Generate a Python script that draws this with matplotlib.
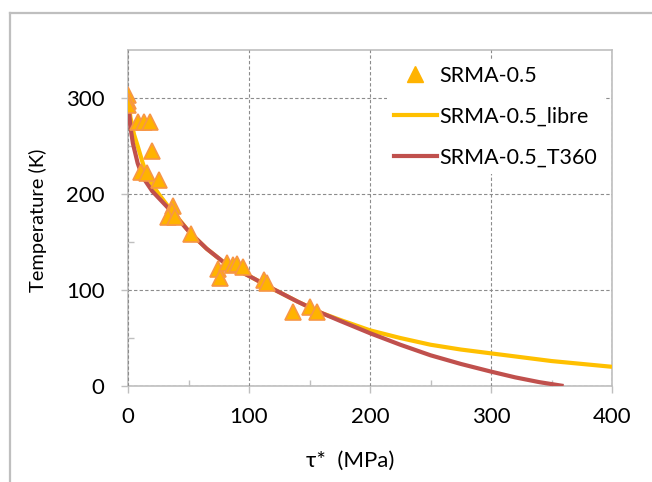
import matplotlib
matplotlib.use("Agg")
import matplotlib.pyplot as plt
from matplotlib.lines import Line2D

# measured points SRMA-0.5 (tau* in MPa, temperature in K)
tau_pts = [0, 0, 0, 8, 13, 18, 20, 11, 16, 26, 37, 36, 33, 39, 52,
           74, 76, 82, 87, 90, 95, 112, 115, 136, 150, 156]
temp_pts = [303, 297, 293, 275, 275, 275, 245, 223, 222, 215, 187, 182, 176, 176, 158,
            122, 112, 128, 126, 127, 124, 110, 107, 77, 82, 77]

# fit "libre"
tau_libre = [0, 2, 5, 8, 12, 15, 20, 26, 32, 40, 51, 65, 79, 90, 101, 120, 140, 160,
             175, 200, 225, 250, 275, 300, 325, 350, 375, 400]
temp_libre = [300, 280, 262, 250, 233, 222, 210, 199, 189, 177, 160, 143, 129, 121, 114,
              101, 88, 76, 69, 58, 50, 43, 38, 34, 30, 26, 23, 20]

# fit with tau0 = 360 MPa
tau_t360 = [0, 1, 2, 4, 8, 12, 20, 26, 32, 40, 51, 65, 79, 90, 101, 120, 140, 160,
            175, 200, 225, 250, 275, 300, 320, 340, 360]
temp_t360 = [300, 285, 270, 253, 232, 218, 203, 195, 187, 176, 160, 143, 129, 121, 114,
             101, 88, 76, 68, 55, 43, 32, 23, 15, 9, 4, 0]

labels = ["SRMA-0.5", "SRMA-0.5_libre", "SRMA-0.5_T360"]

plt.rcParams['font.family'] = ['Lato', 'DejaVu Sans']

W, H = 652, 482
fig = plt.figure(figsize=(W / 100, H / 100), dpi=100)
ax = fig.add_axes([128 / W, 96 / H, 484 / W, 336 / H])

grey = '#BFBFBF'

# lines first, markers on top
ax.plot(tau_libre, temp_libre, color='#FFC000', lw=3, solid_capstyle='butt', zorder=3)
ax.plot(tau_t360, temp_t360, color='#C0504D', lw=3, solid_capstyle='butt', zorder=3)
ax.plot(tau_pts, temp_pts, ls='none', marker='^', ms=11, mfc='#FFB300',
        mec='#F79646', mew=1.2, zorder=4)

ax.set_xlim(0, 400)
ax.set_ylim(0, 350)
ax.set_xticks([0, 100, 200, 300, 400])
ax.set_yticks([0, 100, 200, 300])
ax.set_xticks([50, 150, 250, 350], minor=True)
ax.set_yticks([50, 150, 250], minor=True)

ax.tick_params(which='major', direction='out', length=5, width=1, color=grey,
               labelsize=16, labelcolor='black')
ax.tick_params(axis='x', which='major', pad=10)
ax.tick_params(axis='y', which='major', pad=12)
ax.tick_params(which='minor', direction='in', length=4.5, width=1, color=grey)

ax.grid(which='major', color='#8C8C8C', lw=0.8, ls=(0, (3, 2)), zorder=0)
for s in ax.spines.values():
    s.set_color(grey)
    s.set_linewidth(1.2)
    s.set_zorder(1)

handles = [
    Line2D([], [], ls='none', marker='^', ms=11, mfc='#FFB300', mec='#FFB300'),
    Line2D([], [], color='#FFC000', lw=3),
    Line2D([], [], color='#C0504D', lw=3),
]
leg = ax.legend(handles, labels, loc='upper left', bbox_to_anchor=((383 - 128) / 484, 1 - 5 / 336),
                fontsize=15.5, handlelength=2.0, handletextpad=0.12, labelspacing=0.98,
                borderpad=0.3, borderaxespad=0.2, frameon=True, fancybox=False, framealpha=1)
leg.get_frame().set_edgecolor('none')
leg.get_frame().set_facecolor('white')

fig.text(38 / W, 1 - 220 / H, "Temperature (K)", rotation=90, ha='center', va='center',
         fontsize=14.5)
fig.text(350 / W, 1 - 461 / H, "τ*  (MPa)", ha='center', va='center', fontsize=16)

# chart border (excel frame)
fig.add_artist(Line2D([10 / W, 10 / W], [0, 1 - 13 / H], color=grey, lw=1.6,
                      transform=fig.transFigure))
fig.add_artist(Line2D([10 / W, 1], [1 - 13 / H, 1 - 13 / H], color=grey, lw=1.6,
                      transform=fig.transFigure))

fig.savefig("out.png", dpi=100)
